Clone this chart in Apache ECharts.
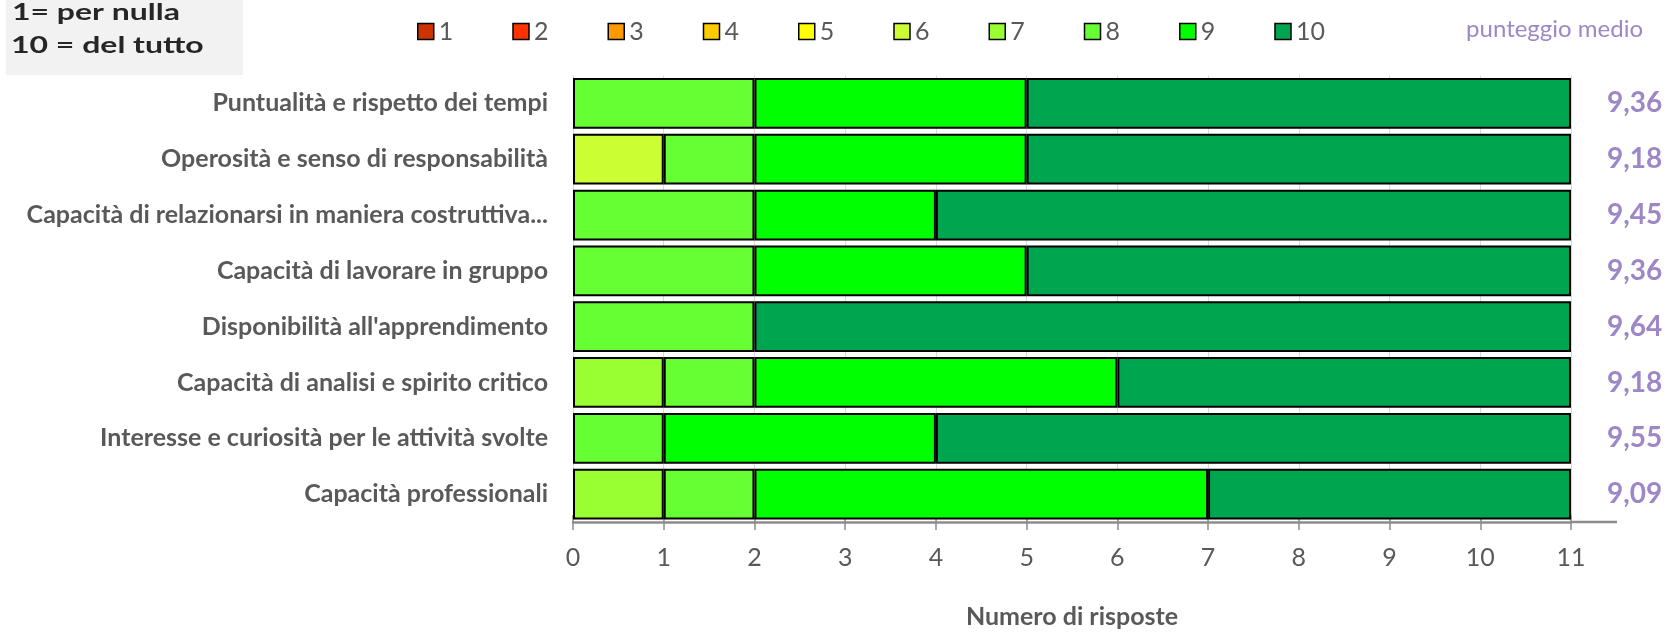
<!DOCTYPE html>
<html>
<head>
<meta charset="utf-8">
<script src="https://cdn.jsdelivr.net/npm/echarts@6/dist/echarts.min.js"></script>
<style>
html,body{margin:0;padding:0;background:#fff;}
#main{width:1668px;height:634px;}
</style>
</head>
<body>
<div id="main"></div>
<script>
// ---- data ----
const categories = [
  "Puntualità e rispetto dei tempi",
  "Operosità e senso di responsabilità",
  "Capacità di relazionarsi in maniera costruttiva...",
  "Capacità di lavorare in gruppo",
  "Disponibilità all'apprendimento",
  "Capacità di analisi e spirito critico",
  "Interesse e curiosità per le attività svolte",
  "Capacità professionali"
];
const scoreNames = ["1","2","3","4","5","6","7","8","9","10"];
const count1  = [0,0,0,0,0,0,0,0];
const count2  = [0,0,0,0,0,0,0,0];
const count3  = [0,0,0,0,0,0,0,0];
const count4  = [0,0,0,0,0,0,0,0];
const count5  = [0,0,0,0,0,0,0,0];
const count6  = [0,1,0,0,0,0,0,0];
const count7  = [0,0,0,0,0,1,0,1];
const count8  = [2,1,2,2,2,1,1,1];
const count9  = [3,3,2,3,0,4,3,5];
const count10 = [6,6,7,6,9,5,7,4];
const meanScores = [9.36,9.18,9.45,9.36,9.64,9.18,9.55,9.09];
const xMin = 0, xMax = 11, xStep = 1;
const axisTitle = "Numero di risposte";
const meanLabel = "punteggio medio";
const noteLines = ["1= per nulla", "10 = del tutto"];

// ---- styles ----
const scoreColors = ["#cc3300","#ff3300","#ff9900","#ffcc00","#ffff00","#ccff33","#99ff33","#66ff33","#00ff00","#00a54f"];
const FONT = "Lato";
const counts = [count1,count2,count3,count4,count5,count6,count7,count8,count9,count10];

const chart = echarts.init(document.getElementById('main'), null, {renderer:'canvas'});

const series = scoreNames.map((name, i) => ({
  name: name,
  type: 'bar',
  stack: 'total',
  barCategoryGap: '9%',
  data: counts[i].map(v => v === 0 ? '-' : v),
  itemStyle: { color: scoreColors[i], borderColor: '#000', borderWidth: 2 },
  emphasis: { disabled: true }
}));

const option = {
  animation: false,
  textStyle: { fontFamily: FONT },
  title: {
    text: meanLabel,
    right: 20, top: 12,
    textStyle: { color: '#9e87c7', fontFamily: FONT, fontSize: 24, fontWeight: 'normal' }
  },
  legend: {
    data: scoreNames,
    left: 412, top: 14,
    itemWidth: 16, itemHeight: 16,
    itemGap: 59,
    icon: 'rect',
    itemStyle: { borderColor: '#000', borderWidth: 1.5 },
    textStyle: { color: '#595959', fontFamily: FONT, fontSize: 25 },
    selectedMode: false
  },
  grid: { left: 573, right: 97, top: 75.5, bottom: 109 },
  xAxis: [{
    type: 'value',
    min: xMin, max: xMax, interval: xStep,
    position: 'bottom',
    name: axisTitle,
    nameLocation: 'middle',
    nameGap: 82,
    nameTextStyle: { color: '#595959', fontFamily: FONT, fontSize: 25, fontWeight: 'bold' },
    axisLine: { show: true, lineStyle: { color: '#8c8c8c', width: 2.5 } },
    axisTick: { show: true, length: 8, lineStyle: { color: '#8c8c8c', width: 1.5 } },
    axisLabel: { color: '#595959', fontFamily: FONT, fontSize: 25, margin: 23 },
    splitLine: { show: true, lineStyle: { color: '#d9d9d9', width: 1 } }
  }, {
    type: 'value',
    min: xMin, max: xMax, interval: xStep,
    position: 'bottom',
    axisLine: { show: false },
    axisTick: { show: true, inside: true, length: 7, lineStyle: { color: '#8c8c8c', width: 1.5 } },
    axisLabel: { show: false },
    splitLine: { show: false }
  }],
  yAxis: [{
    type: 'category',
    data: categories,
    inverse: true,
    axisLine: { show: true, lineStyle: { color: '#d9d9d9', width: 1 } },
    axisTick: { show: false },
    axisLabel: { color: '#595959', fontFamily: FONT, fontSize: 25, fontWeight: 'bold', margin: 25 }
  }, {
    type: 'category',
    data: meanScores.map(v => v.toFixed(2).replace('.', ',')),
    inverse: true,
    position: 'right',
    axisLine: { show: false },
    axisTick: { show: false },
    axisLabel: { color: '#9e87c7', fontFamily: FONT, fontSize: 28, fontWeight: 'bold', margin: 36, align: 'left', padding: [5,0,0,0] }
  }],
  series: series
};
chart.setOption(option);

// extend the value axis line past the last tick, as in the reference
const xEnd = chart.convertToPixel({xAxisIndex: 0}, xMax);
const gridRect = chart.getModel().getComponent('grid').coordinateSystem.getRect();
const yLine = gridRect.y + gridRect.height;
chart.setOption({
  graphic: [
    { type: 'rect', left: 6, top: 0, shape: { width: 237, height: 75 }, style: { fill: '#f2f2f2' }, silent: true },
    { type: 'text', x: 12, y: 13, scaleX: 1.39, style: { text: noteLines[0], fill: '#262626', font: 'bold 23px ' + FONT, verticalAlign: 'middle' } },
    { type: 'text', x: 11, y: 46, scaleX: 1.39, style: { text: noteLines[1], fill: '#262626', font: 'bold 23px ' + FONT, verticalAlign: 'middle' } },
    { type: 'line', shape: { x1: xEnd, y1: yLine, x2: xEnd + 46, y2: yLine }, style: { stroke: '#8c8c8c', lineWidth: 2.5 }, silent: true }
  ]
});
</script>
</body>
</html>
